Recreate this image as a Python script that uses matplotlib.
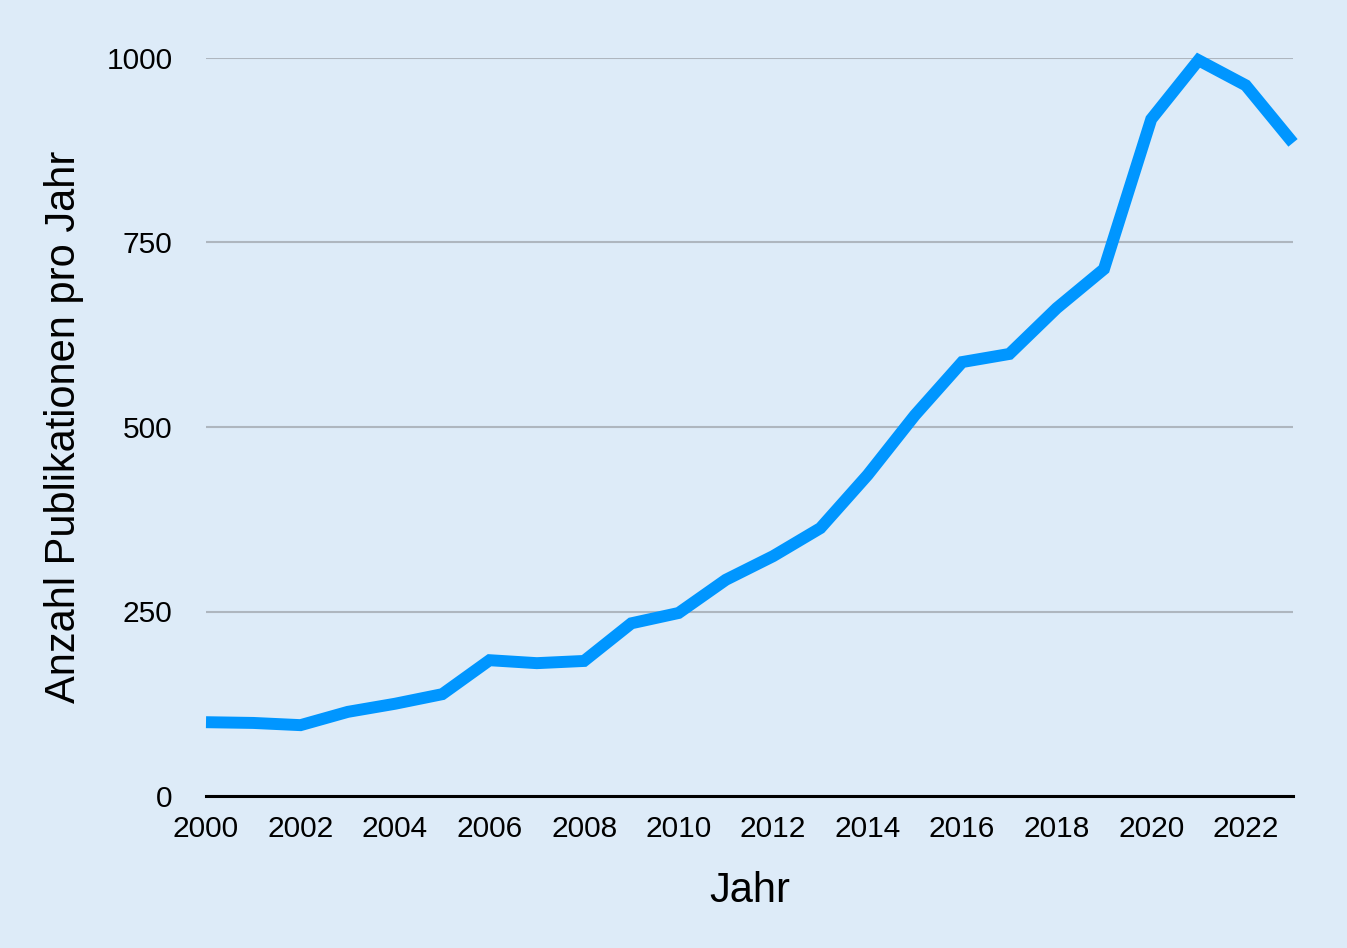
import matplotlib
matplotlib.use("Agg")
import matplotlib.pyplot as plt

years = list(range(2000, 2024))
publications = [100, 99, 96, 114, 125, 138, 184, 180, 183, 234, 248, 293, 325, 363,
                435, 516, 588, 599, 661, 714, 917, 997, 963, 885]
x_ticks = list(range(2000, 2024, 2))
y_ticks = [0, 250, 500, 750, 1000]

plt.rcParams['font.family'] = ['Liberation Sans', 'DejaVu Sans']
bg = '#DDEBF8'
fig = plt.figure(figsize=(13.47, 9.48), dpi=100, facecolor=bg)
ax = fig.add_axes([206/1347, 1-796/948, (1293-206)/1347, (796-58)/948], facecolor=bg)

ax.plot(years, publications, color='#0096FF', lw=8.6, solid_capstyle='butt',
        solid_joinstyle='miter', clip_on=False, zorder=3)

ax.set_xlim(2000, 2023)
ax.set_ylim(0, 1000)
ax.set_xticks(x_ticks)
ax.set_yticks(y_ticks)
ax.set_xticklabels([str(t) for t in x_ticks], fontsize=21.5)
ax.set_yticklabels([str(t) for t in y_ticks], fontsize=21.5)
ax.tick_params(axis='both', length=0)
ax.tick_params(axis='x', pad=14)
ax.tick_params(axis='y', pad=24)

ax.grid(axis='y', color='#AEB6BF', lw=1.5)
ax.grid(axis='x', visible=False)
ax.set_axisbelow(True)
for s in ['top', 'right', 'left']:
    ax.spines[s].set_visible(False)
ax.spines['bottom'].set_color('black')
ax.spines['bottom'].set_linewidth(2.2)
ax.spines['bottom'].set_zorder(4)

ax.set_xlabel('Jahr', fontsize=30, labelpad=20)
ax.set_ylabel('Anzahl Publikationen pro Jahr', fontsize=30, labelpad=16)

fig.savefig('out.png', dpi=100, facecolor=bg)
